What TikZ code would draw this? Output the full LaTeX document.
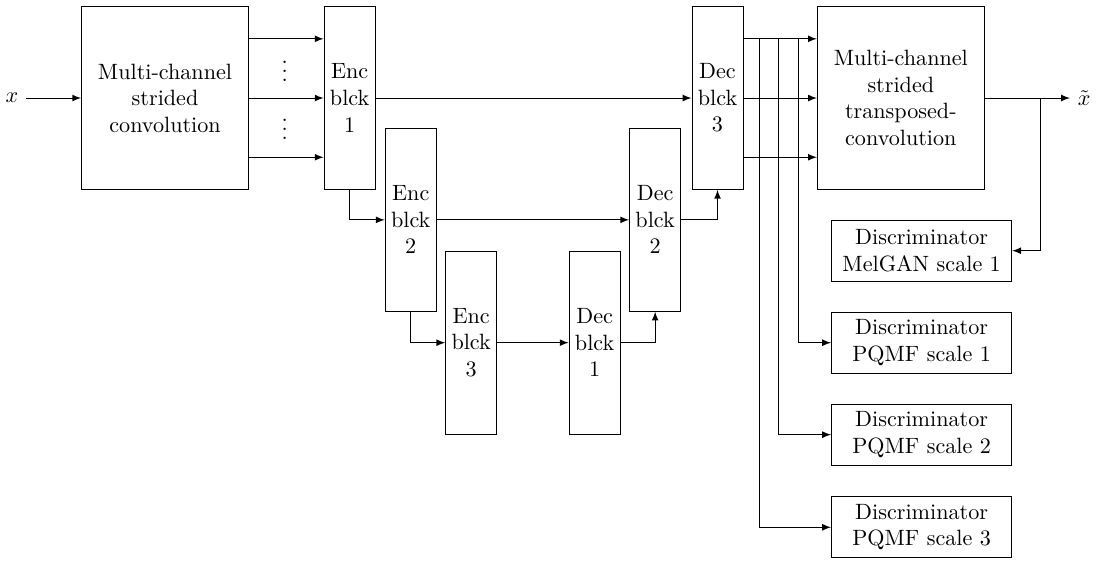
\documentclass[tikz,border=0pt]{standalone}
\usepackage{amsmath, amssymb}
\usepackage{tikz}
\usetikzlibrary{positioning, arrows, calc}

\begin{document}
\begin{tikzpicture}[>=latex,
    blck/.style={draw, minimum width=0.81cm, minimum height=2.9cm, align=center, inner sep=1pt},
    bigbox/.style={draw, minimum width=2.65cm, minimum height=2.9cm, align=center, text width=2.3cm},
    disc/.style={draw, minimum width=2.86cm, minimum height=0.97cm, align=center, inner sep=1pt}]
        \useasboundingbox (0,0) rectangle (17.43,-8.89);

        % Nodes
        \node (x)     at (0.19, -1.556)  {$x$};
        \node [bigbox] (conv) at (2.62, -1.556) {Multi-channel\\strided\\convolution};
        \node [inner sep=0pt] (dotsA) at (4.52, -1.03) {$\vdots$};
        \node [inner sep=0pt] (dotsB) at (4.52, -1.95) {$\vdots$};
        \node [blck] (enc1) at (5.55, -1.556)  {Enc\\blck\\1};
        \node [blck] (enc2) at (6.52, -3.49)   {Enc\\blck\\2};
        \node [blck] (enc3) at (7.48, -5.44)   {Enc\\blck\\3};
        \node [blck] (dec1) at (9.44, -5.44)   {Dec\\blck\\1};
        \node [blck] (dec2) at (10.40, -3.49)  {Dec\\blck\\2};
        \node [blck] (dec3) at (11.39, -1.556) {Dec\\blck\\3};
        \node [bigbox] (tconv) at (14.30, -1.556) {Multi-channel\\strided\\transposed-\\convolution};
        \node (xhat)  at (17.21, -1.556) {$\tilde{x}$};
        \node [disc] (melgan) at (14.63, -3.98) {Discriminator\\MelGAN scale 1};
        \node [disc] (pqmf1)  at (14.63, -5.44) {Discriminator\\PQMF scale 1};
        \node [disc] (pqmf2)  at (14.63, -6.90) {Discriminator\\PQMF scale 2};
        \node [disc] (pqmf3)  at (14.63, -8.37) {Discriminator\\PQMF scale 3};

        % Edges
        \draw[->] (x) -- (conv);
        \draw[->] ([yshift=0.94cm]conv.east) -- ([yshift=0.94cm]enc1.west);
        \draw[->] (conv.east) -- (enc1.west);
        \draw[->] ([yshift=-0.94cm]conv.east) -- ([yshift=-0.94cm]enc1.west);
        \draw[->] (enc1.east) -- (dec3.west);
        \draw[->] (enc1.south) |- (enc2.west);
        \draw[->] (enc2.east) -- (dec2.west);
        \draw[->] (enc2.south) |- (enc3.west);
        \draw[->] (enc3.east) -- (dec1.west);
        \draw[->] (dec1.east) -| (dec2.south);
        \draw[->] (dec2.east) -| (dec3.south);
        \draw[->] ([yshift=0.94cm]dec3.east) -- ([yshift=0.94cm]tconv.west);
        \draw[->] (dec3.east) -- (tconv.west);
        \draw[->] ([yshift=-0.94cm]dec3.east) -- ([yshift=-0.94cm]tconv.west);
        \draw[->] (tconv.east) -- (xhat);
        \draw[->] ([xshift=0.88cm]tconv.east) |- (melgan.east);
        \draw[->] ([xshift=0.88cm,yshift=0.94cm]dec3.east) |- (pqmf1.west);
        \draw[->] ([xshift=0.56cm,yshift=0.94cm]dec3.east) |- (pqmf2.west);
        \draw[->] ([xshift=0.26cm,yshift=0.94cm]dec3.east) |- (pqmf3.west);

      \end{tikzpicture}
\end{document}
